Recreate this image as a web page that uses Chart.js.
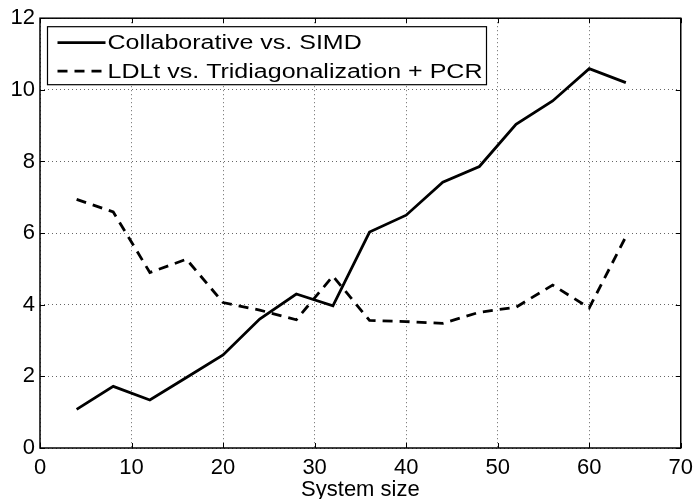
<!DOCTYPE html>
<html>
<head>
<meta charset="utf-8">
<script src="https://cdn.jsdelivr.net/npm/chart.js@4"></script>
<style>
  html, body { margin: 0; padding: 0; background: #fff; }
  #wrap { width: 700px; height: 499px; }
</style>
</head>
<body>
<div id="wrap"><canvas id="c"></canvas></div>
<script>
const sizes = [4, 8, 12, 16, 20, 24, 28, 32, 36, 40, 44, 48, 52, 56, 60, 64];
const collab = [1.08, 1.72, 1.34, 1.97, 2.6, 3.6, 4.3, 3.97, 6.03, 6.5, 7.42, 7.86, 9.04, 9.69, 10.59, 10.2];
const ldlt = [6.94, 6.59, 4.9, 5.27, 4.06, 3.85, 3.58, 4.8, 3.56, 3.53, 3.48, 3.79, 3.93, 4.55, 3.91, 5.9];
const seriesNames = ['Collaborative vs. SIMD', 'LDLt vs. Tridiagonalization + PCR'];
const xTitle = 'System size';

const FONT = 'Liberation Sans, Arial, Helvetica, sans-serif';

const toPoints = ys => sizes.map((x, i) => ({x: x, y: ys[i]}));

// box round the plot with inward ticks, like matlab, plus the legend box
const framePlugin = {
    id: 'frame',
    afterDatasetsDraw(chart) {
        const {ctx, chartArea: a, scales} = chart;
        ctx.save();
        ctx.strokeStyle = '#000';
        ctx.lineWidth = 1.5;
        ctx.strokeRect(a.left, a.top, a.right - a.left, a.bottom - a.top);
        ctx.lineWidth = 1;
        const tl = 5;
        scales.x.ticks.forEach(t => {
            const px = Math.round(scales.x.getPixelForValue(t.value)) + 0.5;
            ctx.beginPath();
            ctx.moveTo(px, a.bottom); ctx.lineTo(px, a.bottom - tl);
            ctx.moveTo(px, a.top); ctx.lineTo(px, a.top + tl);
            ctx.stroke();
        });
        scales.y.ticks.forEach(t => {
            const py = Math.round(scales.y.getPixelForValue(t.value)) + 0.5;
            ctx.beginPath();
            ctx.moveTo(a.left, py); ctx.lineTo(a.left + tl, py);
            ctx.moveTo(a.right, py); ctx.lineTo(a.right - tl, py);
            ctx.stroke();
        });

        // legend
        const bx = a.left + 7.5, by = a.top + 8.5, bw = 439, bh = 58;
        ctx.fillStyle = '#fff';
        ctx.fillRect(bx, by, bw, bh);
        ctx.lineWidth = 1.2;
        ctx.strokeRect(bx, by, bw, bh);
        chart.data.datasets.forEach((ds, i) => {
            const cy = by + 16 + i * 28.5;
            ctx.save();
            ctx.lineWidth = ds.borderWidth;
            ctx.setLineDash(ds.borderDash || []);
            ctx.beginPath();
            ctx.moveTo(bx + 10, cy); ctx.lineTo(bx + 58, cy);
            ctx.stroke();
            ctx.restore();
            ctx.save();
            ctx.fillStyle = '#000';
            ctx.font = '20px ' + FONT;
            ctx.textBaseline = 'middle';
            ctx.translate(bx + 60, cy + 1);
            ctx.scale(1.25, 1);
            ctx.fillText(ds.label, 0, 0);
            ctx.restore();
        });
        ctx.restore();
    }
};

const chart = new Chart(document.getElementById('c'), {
    type: 'line',
    data: {
        datasets: [{
            label: seriesNames[0],
            data: toPoints(collab),
            borderColor: '#000',
            borderWidth: 2.8,
            pointRadius: 0,
            tension: 0
        }, {
            label: seriesNames[1],
            data: toPoints(ldlt),
            borderColor: '#000',
            borderWidth: 2.8,
            borderDash: [10, 7],
            pointRadius: 0,
            tension: 0
        }]
    },
    options: {
        responsive: true,
        maintainAspectRatio: false,
        animation: false,
        layout: {padding: {top: 16, right: 15, left: 0, bottom: 0}},
        plugins: {legend: {display: false}, tooltip: {enabled: false}},
        scales: {
            x: {
                type: 'linear',
                min: 0, max: 70,
                ticks: {stepSize: 10, color: '#000', padding: 7, font: {family: FONT, size: 22}, maxRotation: 0},
                grid: {color: '#666', lineWidth: 1, drawTicks: false},
                border: {display: false, dash: [1, 3]},
                title: {display: true, text: xTitle, color: '#000', font: {family: FONT, size: 22, lineHeight: 1}, padding: {top: 0, bottom: -2}},
                afterFit: s => { s.height = 51; }
            },
            y: {
                min: 0, max: 12,
                ticks: {stepSize: 2, color: '#000', padding: 5, font: {family: FONT, size: 22}},
                grid: {color: '#666', lineWidth: 1, drawTicks: false},
                border: {display: false, dash: [1, 3]},
                afterFit: s => { s.width = 40; }
            }
        }
    },
    plugins: [framePlugin]
});
</script>
</body>
</html>
